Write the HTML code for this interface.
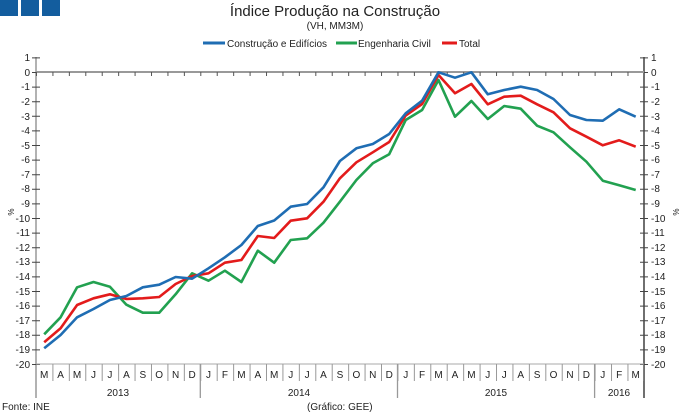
<!DOCTYPE html>
<html><head><meta charset="utf-8"><style>
body{margin:0;background:#fff;}
svg{display:block;font-family:"Liberation Sans",sans-serif;}
</style></head><body>
<svg width="681" height="415" viewBox="0 0 681 415" xmlns="http://www.w3.org/2000/svg">
<rect x="0" y="0" width="18" height="16" fill="#135d9e"/>
<rect x="21" y="0" width="18" height="16" fill="#135d9e"/>
<rect x="42" y="0" width="18" height="16" fill="#135d9e"/>
<text x="335" y="16" font-size="15" text-anchor="middle" fill="#222">Índice Produção na Construção</text>
<text x="335" y="29" font-size="10" text-anchor="middle" fill="#222">(VH, MM3M)</text>
<line x1="203" y1="43" x2="225" y2="43" stroke="#1f6db3" stroke-width="3"/>
<text x="227" y="47" font-size="10" fill="#222">Construção e Edifícios</text>
<line x1="336" y1="43" x2="357" y2="43" stroke="#22a150" stroke-width="3"/>
<text x="358" y="47" font-size="10" fill="#222">Engenharia Civil</text>
<line x1="442" y1="43" x2="457" y2="43" stroke="#e31b1b" stroke-width="3"/>
<text x="459" y="47" font-size="10" fill="#222">Total</text>
<!-- axes -->
<line x1="36" y1="57" x2="36" y2="398" stroke="#888" stroke-width="1.3"/>
<line x1="644" y1="57" x2="644" y2="398" stroke="#222" stroke-width="1.3"/>
<line x1="36" y1="57.4" x2="36" y2="365" stroke="#444" stroke-width="8" stroke-dasharray="1 13.6"/>
<line x1="644" y1="57.4" x2="644" y2="365" stroke="#444" stroke-width="8" stroke-dasharray="1 13.6"/>
<line x1="36" y1="72" x2="644" y2="72" stroke="#999" stroke-width="2"/>
<line x1="36" y1="74" x2="644" y2="74" stroke="#555" stroke-width="4" stroke-dasharray="1 15.43"/>
<line x1="36" y1="364" x2="644" y2="364" stroke="#aaa" stroke-width="1"/>
<line x1="52.4" y1="372.5" x2="644" y2="372.5" stroke="#999" stroke-width="17" stroke-dasharray="1 15.43"/>
<line x1="200.3" y1="364" x2="200.3" y2="398" stroke="#999" stroke-width="1.3"/>
<line x1="397.5" y1="364" x2="397.5" y2="398" stroke="#999" stroke-width="1.3"/>
<line x1="594.6" y1="364" x2="594.6" y2="398" stroke="#999" stroke-width="1.3"/>
<g font-size="10" fill="#222" text-anchor="end">
<text x="30" y="61">1</text><text x="30" y="76">0</text><text x="30" y="90">-1</text><text x="30" y="105">-2</text><text x="30" y="120">-3</text><text x="30" y="134">-4</text><text x="30" y="149">-5</text><text x="30" y="163">-6</text><text x="30" y="178">-7</text><text x="30" y="192">-8</text><text x="30" y="207">-9</text><text x="30" y="222">-10</text><text x="30" y="236">-11</text><text x="30" y="251">-12</text><text x="30" y="265">-13</text><text x="30" y="280">-14</text><text x="30" y="295">-15</text><text x="30" y="309">-16</text><text x="30" y="324">-17</text><text x="30" y="338">-18</text><text x="30" y="353">-19</text><text x="30" y="368">-20</text>
</g>
<g font-size="10" fill="#222">
<text x="651" y="61">1</text><text x="651" y="76">0</text><text x="651" y="90">-1</text><text x="651" y="105">-2</text><text x="651" y="120">-3</text><text x="651" y="134">-4</text><text x="651" y="149">-5</text><text x="651" y="163">-6</text><text x="651" y="178">-7</text><text x="651" y="192">-8</text><text x="651" y="207">-9</text><text x="651" y="222">-10</text><text x="651" y="236">-11</text><text x="651" y="251">-12</text><text x="651" y="265">-13</text><text x="651" y="280">-14</text><text x="651" y="295">-15</text><text x="651" y="309">-16</text><text x="651" y="324">-17</text><text x="651" y="338">-18</text><text x="651" y="353">-19</text><text x="651" y="368">-20</text>
</g>
<text x="8" y="212" font-size="8" fill="#222" transform="rotate(90 8 212)" text-anchor="middle">%</text>
<text x="673" y="212" font-size="8" fill="#222" transform="rotate(90 673 212)" text-anchor="middle">%</text>
<g font-size="10" fill="#222" text-anchor="middle">
<text x="44.2" y="378">M</text><text x="60.6" y="378">A</text><text x="77.1" y="378">M</text><text x="93.5" y="378">J</text><text x="109.9" y="378">J</text><text x="126.4" y="378">A</text><text x="142.8" y="378">S</text><text x="159.2" y="378">O</text><text x="175.6" y="378">N</text><text x="192.1" y="378">D</text><text x="208.5" y="378">J</text><text x="224.9" y="378">F</text><text x="241.4" y="378">M</text><text x="257.8" y="378">A</text><text x="274.2" y="378">M</text><text x="290.7" y="378">J</text><text x="307.1" y="378">J</text><text x="323.5" y="378">A</text><text x="339.9" y="378">S</text><text x="356.4" y="378">O</text><text x="372.8" y="378">N</text><text x="389.2" y="378">D</text><text x="405.7" y="378">J</text><text x="422.1" y="378">F</text><text x="438.5" y="378">M</text><text x="455" y="378">A</text><text x="471.4" y="378">M</text><text x="487.8" y="378">J</text><text x="504.2" y="378">J</text><text x="520.7" y="378">A</text><text x="537.1" y="378">S</text><text x="553.5" y="378">O</text><text x="570" y="378">N</text><text x="586.4" y="378">D</text><text x="602.8" y="378">J</text><text x="619.2" y="378">F</text><text x="635.7" y="378">M</text>
<text x="118" y="396">2013</text><text x="299" y="396">2014</text><text x="496" y="396">2015</text><text x="619" y="396">2016</text>
</g>
<text x="2" y="410" font-size="10" fill="#222">Fonte: INE</text>
<text x="307" y="410" font-size="10" fill="#222">(Gráfico: GEE)</text>
<g fill="none" stroke-width="2.6" stroke-linejoin="round">
<polyline stroke="#22a150" points="44.2,334.3 60.6,317.3 77.1,287.3 93.5,282 109.9,286.7 126.4,304.7 142.8,312.7 159.2,312.7 175.6,294.3 192.1,273.3 208.5,280.7 224.9,270.7 241.4,282 257.8,250.7 274.2,262.7 290.7,240 307.1,238.3 323.5,222.7 339.9,201.7 356.4,180 372.8,163.3 389.2,154.2 405.7,120 422.1,110 438.5,80 455,116.7 471.4,101 487.8,119 504.2,106 520.7,108.7 537.1,125.7 553.5,132.3 570,147.3 586.4,161.7 602.8,180.7 619.2,185.3 635.7,190"/>
<polyline stroke="#e31b1b" points="44.2,342.3 60.6,328.3 77.1,305 93.5,298.3 109.9,294.3 126.4,299 142.8,298.3 159.2,297 175.6,284 192.1,276 208.5,273.3 224.9,262.7 241.4,260 257.8,236 274.2,238 290.7,220.7 307.1,218.3 323.5,201.7 339.9,178.3 356.4,162.3 372.8,152.3 389.2,142 405.7,115.5 422.1,104 438.5,75 455,93.3 471.4,84 487.8,104.3 504.2,96.7 520.7,95.7 537.1,104.3 553.5,112.3 570,128.3 586.4,136.7 602.8,145.3 619.2,140.3 635.7,146.7"/>
<polyline stroke="#1f6db3" points="44.2,348.3 60.6,335 77.1,317.3 93.5,309 109.9,300 126.4,296 142.8,287.3 159.2,284.7 175.6,277 192.1,278.7 208.5,268.3 224.9,257.3 241.4,245 257.8,226 274.2,220.5 290.7,206.7 307.1,204 323.5,187.3 339.9,161 356.4,148.3 372.8,144 389.2,134 405.7,113.3 422.1,100.7 438.5,72.3 455,77.7 471.4,72.3 487.8,94.3 504.2,90 520.7,86.7 537.1,90 553.5,99 570,115 586.4,120 602.8,120.7 619.2,109.3 635.7,116.7"/>
</g>
</svg>
</body></html>
